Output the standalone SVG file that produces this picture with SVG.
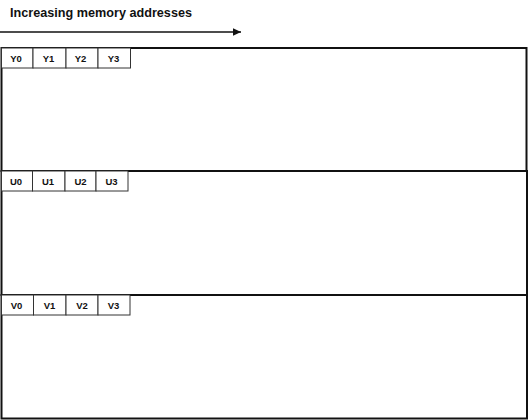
<svg xmlns="http://www.w3.org/2000/svg" width="528" height="420" viewBox="0 0 528 420">
<defs>
<style>
.title{font-family:"Liberation Sans",Arial,sans-serif;font-weight:bold;font-size:12.7px;fill:#111}
.lbl{font-family:"Liberation Sans",Arial,sans-serif;font-weight:bold;font-size:9.5px;fill:#111;text-anchor:middle}
.sec{fill:#fff;stroke:#111;stroke-width:2}
.cell{fill:#fff;stroke:#333;stroke-width:1}
</style>
<marker id="ah" markerWidth="9" markerHeight="9" refX="8" refY="4.5" orient="auto" markerUnits="userSpaceOnUse">
<path d="M0,0.8 L8,4.5 L0,8.2 Z" fill="#111"/>
</marker>
</defs>
<rect width="528" height="420" fill="#fff"/>
<text class="title" x="10" y="17" textLength="182" lengthAdjust="spacingAndGlyphs">Increasing memory addresses</text>
<g id="connectors">
<line x1="0" y1="32" x2="241" y2="32" stroke="#111" stroke-width="1.5" marker-end="url(#ah)"/>
</g>
<g id="Y">
<rect class="sec" x="1.5" y="48" width="525" height="123"/>
<rect class="cell" x="1.5" y="48" width="31.5" height="20"/>
<rect class="cell" x="33" y="48" width="33" height="20"/>
<rect class="cell" x="66" y="48" width="32" height="20"/>
<rect class="cell" x="98" y="48" width="32.5" height="20"/>
<text class="lbl" x="16" y="61.5">Y0</text>
<text class="lbl" x="48.5" y="61.5">Y1</text>
<text class="lbl" x="80.5" y="61.5">Y2</text>
<text class="lbl" x="113.5" y="61.5">Y3</text>
</g>
<g id="U">
<rect class="sec" x="1.5" y="171" width="525.5" height="124"/>
<rect class="cell" x="1.5" y="171" width="31" height="20"/>
<rect class="cell" x="32.5" y="171" width="32.5" height="20"/>
<rect class="cell" x="65" y="171" width="31" height="20"/>
<rect class="cell" x="96" y="171" width="32" height="20"/>
<text class="lbl" x="16" y="184.5">U0</text>
<text class="lbl" x="48" y="184.5">U1</text>
<text class="lbl" x="80.5" y="184.5">U2</text>
<text class="lbl" x="111.5" y="184.5">U3</text>
</g>
<g id="V">
<rect class="sec" x="1.5" y="295" width="525.5" height="123.5"/>
<rect class="cell" x="1.5" y="295" width="32" height="20"/>
<rect class="cell" x="33.5" y="295" width="32.5" height="20"/>
<rect class="cell" x="66" y="295" width="32" height="20"/>
<rect class="cell" x="98" y="295" width="32" height="20"/>
<text class="lbl" x="16.5" y="308.5">V0</text>
<text class="lbl" x="49.5" y="308.5">V1</text>
<text class="lbl" x="82" y="308.5">V2</text>
<text class="lbl" x="113.5" y="308.5">V3</text>
</g>
</svg>
